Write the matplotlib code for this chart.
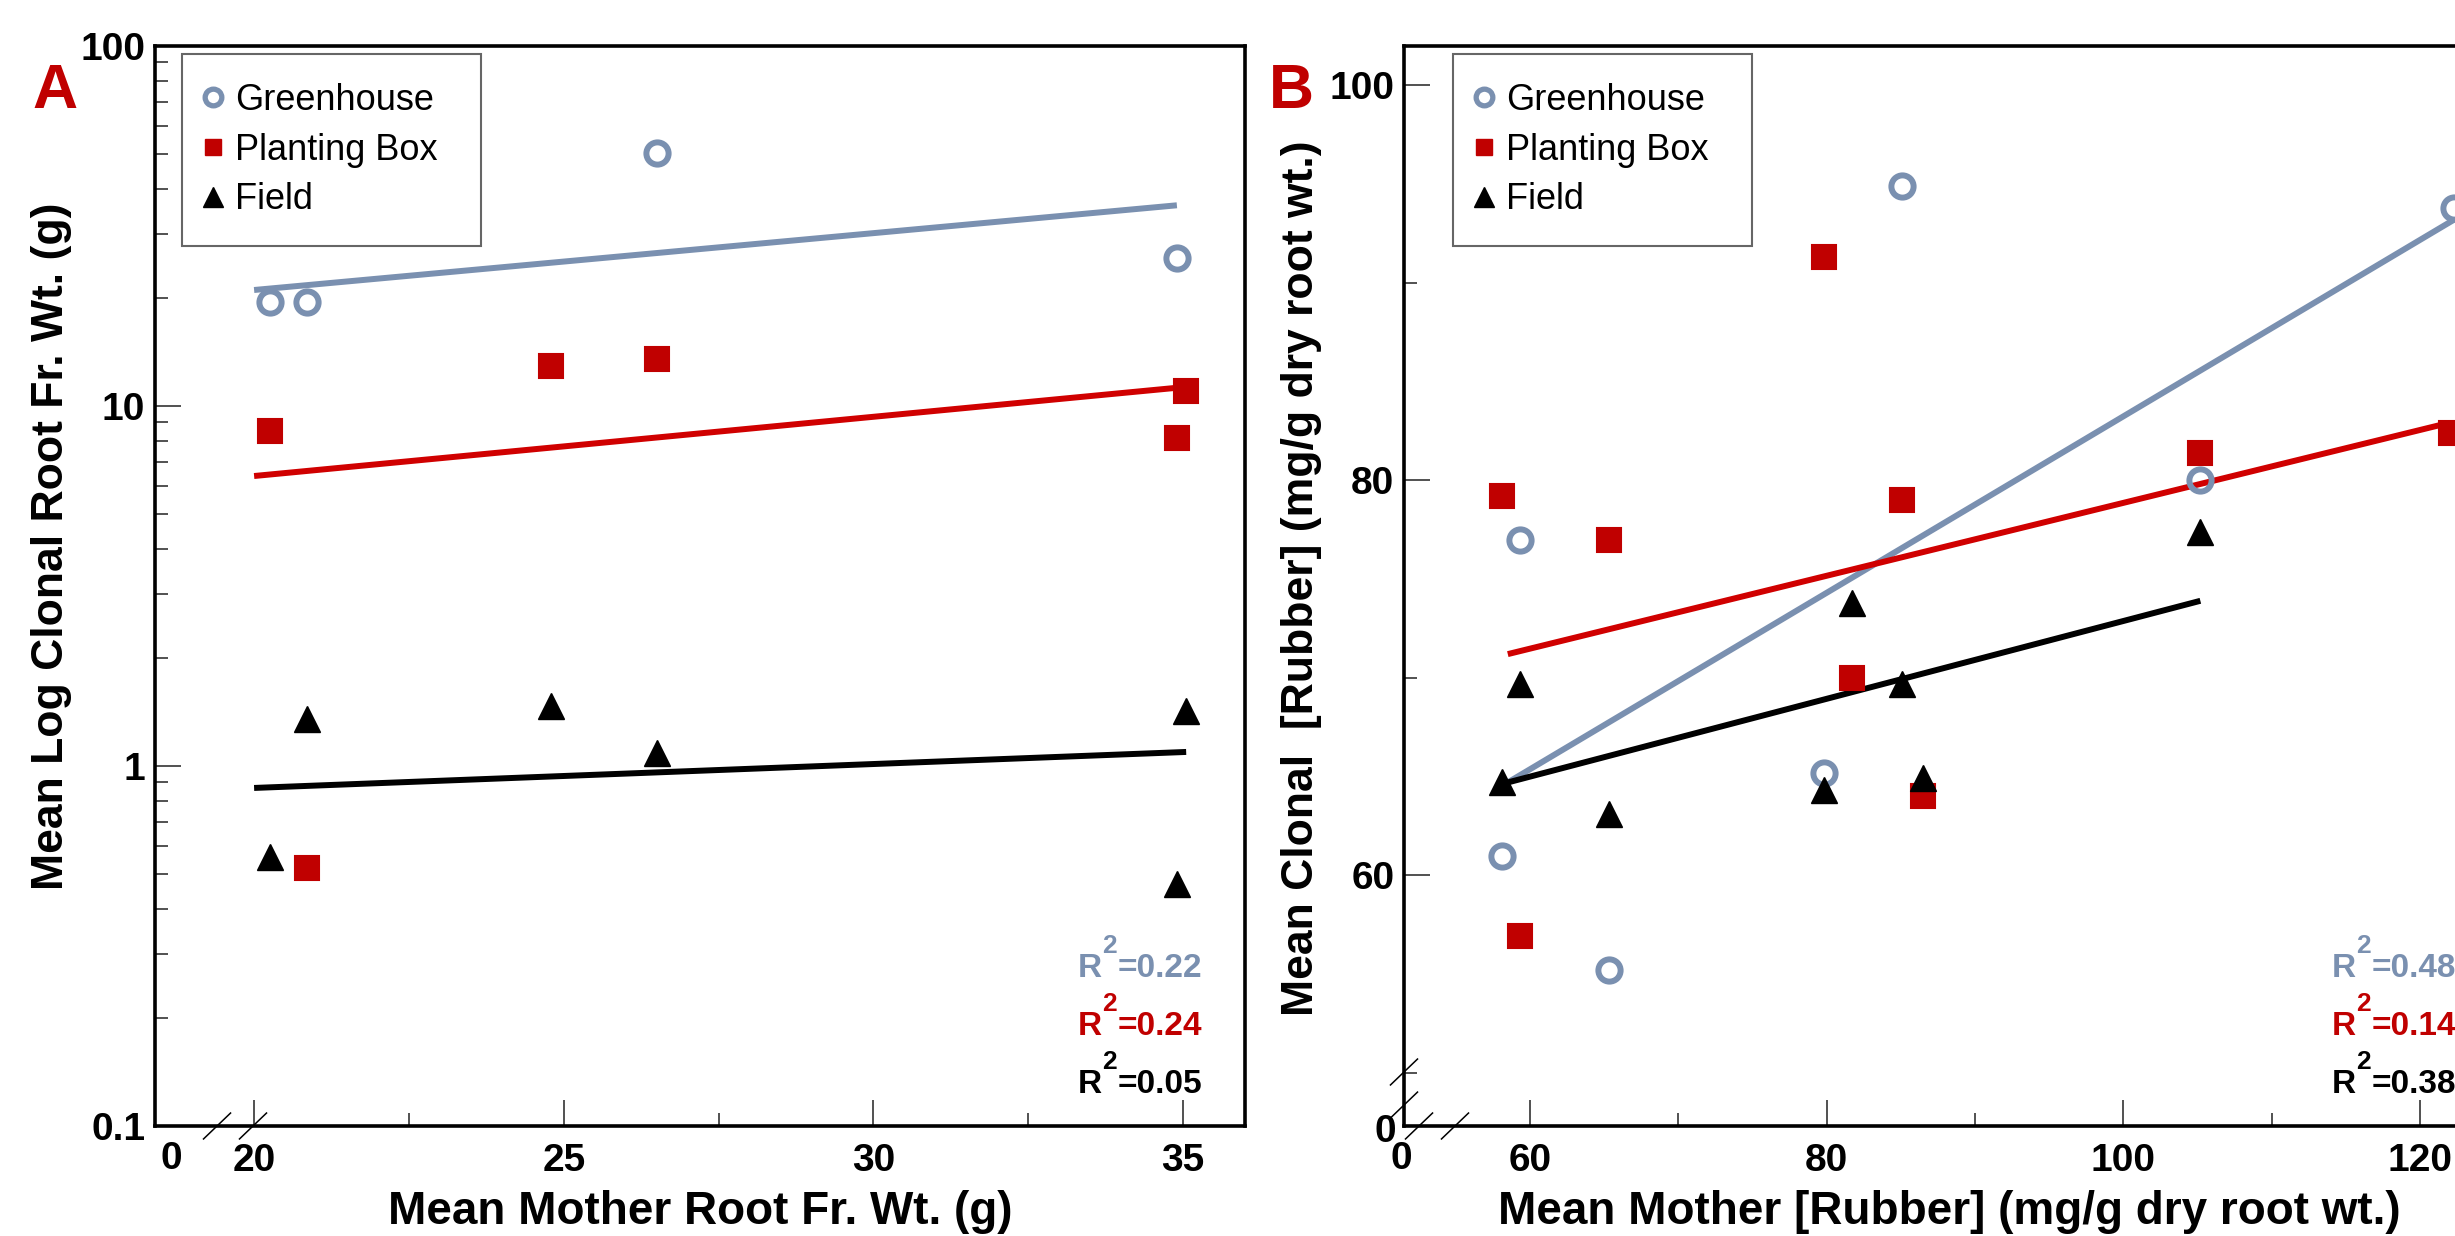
import matplotlib
matplotlib.use("Agg")
from matplotlib import pyplot as plt
from matplotlib.lines import Line2D

# Police type Arial (Liberation Sans)
plt.rcParams["font.family"] = ["Liberation Sans", "DejaVu Sans"]

# Couleurs
BLEU = "#7a90b0"
ROUGE = "#c00000"
ROUGE_LIGNE = "#d00000"
NOIR = "black"

# ---- Panneau A : poids des racines ----
a_serre_x = [20.25, 20.85, 26.5, 34.9]
a_serre_y = [19.4, 19.4, 50.5, 25.8]
a_bac_x = [20.25, 20.85, 24.8, 26.5, 34.9, 35.05]
a_bac_y = [8.5, 0.52, 12.9, 13.5, 8.15, 11.0]
a_champ_x = [20.25, 20.85, 24.8, 26.5, 34.9, 35.05]
a_champ_y = [0.56, 1.35, 1.47, 1.09, 0.47, 1.42]

# droites de regression (extremites)
a_fit_serre_x, a_fit_serre_y = [20.0, 34.9], [21.0, 36.1]
a_fit_bac_x, a_fit_bac_y = [20.0, 35.05], [6.39, 11.3]
a_fit_champ_x, a_fit_champ_y = [20.0, 35.05], [0.869, 1.094]
a_r2 = ["0.22", "0.24", "0.05"]

# ---- Panneau B : caoutchouc ----
b_serre_x = [58.1, 59.3, 65.3, 79.8, 85.1, 105.2, 122.3]
b_serre_y = [61.0, 77.0, 55.2, 65.2, 94.9, 80.0, 93.8]
b_bac_x = [58.1, 59.3, 65.3, 79.8, 81.7, 85.1, 86.5, 105.2, 122.1]
b_bac_y = [79.2, 56.9, 77.0, 91.3, 70.0, 79.0, 64.0, 81.4, 82.4]
b_champ_x = [58.1, 59.3, 65.3, 79.8, 81.7, 85.1, 86.5, 105.2]
b_champ_y = [64.7, 69.7, 63.1, 64.3, 73.8, 69.7, 64.9, 77.4]

b_fit_serre_x, b_fit_serre_y = [58.5, 122.3], [64.7, 93.2]
b_fit_bac_x, b_fit_bac_y = [58.5, 121.9], [71.2, 82.9]
b_fit_champ_x, b_fit_champ_y = [58.5, 105.2], [64.7, 73.9]
b_r2 = ["0.48", "0.14", "0.38"]

legende = ["Greenhouse", "Planting Box", "Field"]

fig = plt.figure(figsize=(24.55, 12.36), dpi=100)
axA = fig.add_axes([0.06314, 0.0890, 0.44399, 0.87379])
axB = fig.add_axes([0.57189, 0.0890, 0.44399, 0.87379])  # depasse a droite


def nuage(ax, sx, sy, bx, by, cx, cy):
    ax.plot(sx, sy, "o", ms=16, mfc="none", mec=BLEU, mew=4.3, zorder=4)
    ax.plot(bx, by, "s", ms=17, mfc=ROUGE, mec=ROUGE, mew=1.5, zorder=4)
    ax.plot(cx, cy, "^", ms=19, mfc=NOIR, mec=NOIR, mew=1, zorder=4)


def droites(ax, f1, f2, f3):
    ax.plot(f1[0], f1[1], color=BLEU, lw=4.3, solid_capstyle="butt", zorder=3)
    ax.plot(f2[0], f2[1], color=ROUGE_LIGNE, lw=4.3, solid_capstyle="butt", zorder=3)
    ax.plot(f3[0], f3[1], color=NOIR, lw=4.3, solid_capstyle="butt", zorder=3)


def habillage(ax, x_leg, titre):
    for s in ax.spines.values():
        s.set_linewidth(2.6)
    ax.tick_params(which="both", direction="in", top=False, right=False,
                   width=1.1, color="#222222", labelsize=28)
    ax.tick_params(axis="x", pad=12)
    ax.tick_params(axis="y", pad=7)
    ax.tick_params(which="major", length=19)
    ax.tick_params(which="minor", length=9.5)
    for lab in ax.get_xticklabels() + ax.get_yticklabels():
        lab.set_fontweight("bold")

    # titre de l'axe x (un peu remonte pour ne pas etre coupe)
    ax.text(0.5, -0.0905, titre, transform=ax.transAxes, ha="center",
            va="baseline", fontsize=33, fontweight="bold")

    poignees = [
        Line2D([], [], ls="none", marker="o", ms=12, mfc="none", mec=BLEU, mew=3.8),
        Line2D([], [], ls="none", marker="s", ms=11, mfc=ROUGE, mec=ROUGE),
        Line2D([], [], ls="none", marker="^", ms=15, mfc=NOIR, mec=NOIR),
    ]
    leg = ax.legend(poignees, legende, loc="upper left",
                    bbox_to_anchor=(x_leg, 0.8, 0.2743, 0.1926), mode="expand",
                    borderaxespad=0, fontsize=26, frameon=True, fancybox=False,
                    edgecolor="#404040", borderpad=0.8, handlelength=0.1,
                    handletextpad=0.57, labelspacing=0.41)
    leg.get_frame().set_linewidth(1.5)


def cassure(ax, xc, yc, dx=0.0124, dy=0.012):
    ax.plot([xc - dx, xc + dx], [yc - dy, yc + dy], color="black", lw=1.1,
            transform=ax.transAxes, clip_on=False, zorder=6)


def texte_r2(ax, valeurs, x):
    couleurs = [BLEU, ROUGE, NOIR]
    ys = [0.138, 0.0843, 0.0306]
    for v, c, y in zip(valeurs, couleurs, ys):
        t = ax.text(x, y, "=" + v, transform=ax.transAxes, ha="right",
                    va="baseline", fontsize=24, fontweight="bold", color=c)
        r = ax.annotate("R", xy=(0, 0), xycoords=t, xytext=(-11, 0),
                        textcoords="offset points", ha="right", va="bottom",
                        fontsize=24, fontweight="bold", color=c)
        ax.annotate("2", xy=(1, 0), xycoords=r, xytext=(0, 18.5),
                    textcoords="offset points", ha="left", va="bottom",
                    fontsize=19, fontweight="bold", color=c)


# ---- Panneau A ----
nuage(axA, a_serre_x, a_serre_y, a_bac_x, a_bac_y, a_champ_x, a_champ_y)
droites(axA, (a_fit_serre_x, a_fit_serre_y), (a_fit_bac_x, a_fit_bac_y),
        (a_fit_champ_x, a_fit_champ_y))
axA.set_yscale("log")
axA.set_xlim(18.4, 36.0)
axA.set_ylim(0.1, 100)
axA.set_xticks([20, 25, 30, 35])
axA.set_xticks([22.5, 27.5, 32.5], minor=True)
axA.set_yticks([0.1, 1, 10, 100])
axA.set_yticklabels(["0.1", "1", "10", "100"])
axA.xaxis.set_minor_formatter(plt.NullFormatter())
axA.yaxis.set_minor_formatter(plt.NullFormatter())
habillage(axA, 0.0248, "Mean Mother Root Fr. Wt. (g)")
axA.text(0.0147, -0.031, "0", transform=axA.transAxes, ha="center", va="center",
         fontsize=28, fontweight="bold")
cassure(axA, 0.0569, 0.0)
cassure(axA, 0.0899, 0.0)
texte_r2(axA, a_r2, 0.9606)

# ---- Panneau B ----
nuage(axB, b_serre_x, b_serre_y, b_bac_x, b_bac_y, b_champ_x, b_champ_y)
droites(axB, (b_fit_serre_x, b_fit_serre_y), (b_fit_bac_x, b_fit_bac_y),
        (b_fit_champ_x, b_fit_champ_y))
axB.set_xlim(51.5, 125.0)
axB.set_ylim(47.3, 102.0)
axB.set_xticks([60, 80, 100, 120])
axB.set_xticks([70, 90, 110], minor=True)
axB.set_yticks([60, 80, 100])
axB.set_yticks([50, 70, 90], minor=True)
habillage(axB, 0.045, "Mean Mother [Rubber] (mg/g dry root wt.)")
axB.text(-0.002, -0.031, "0", transform=axB.transAxes, ha="center", va="center",
         fontsize=28, fontweight="bold")
axB.text(-0.0174, -0.0056, "0", transform=axB.transAxes, ha="center", va="center",
         fontsize=28, fontweight="bold")
cassure(axB, 0.0138, 0.0)
cassure(axB, 0.0468, 0.0)
cassure(axB, 0.0, 0.05)
cassure(axB, 0.0, 0.0194)
texte_r2(axB, b_r2, 0.965)

# Titres des axes y et lettres des panneaux
fig.text(52 / 2455, 1 - 546 / 1236, "Mean Log Clonal Root Fr. Wt. (g)", rotation=90,
         ha="center", va="center", fontsize=32, fontweight="bold")
fig.text(1302 / 2455, 1 - 578 / 1236, "Mean Clonal  [Rubber] (mg/g dry root wt.)",
         rotation=90, ha="center", va="center", fontsize=32, fontweight="bold")
fig.text(55 / 2455, 1 - 92 / 1236, "A", ha="center", va="center", fontsize=45,
         fontweight="bold", color=ROUGE)
fig.text(1291 / 2455, 1 - 92 / 1236, "B", ha="center", va="center", fontsize=45,
         fontweight="bold", color=ROUGE)

fig.savefig("out.png", dpi=100)
